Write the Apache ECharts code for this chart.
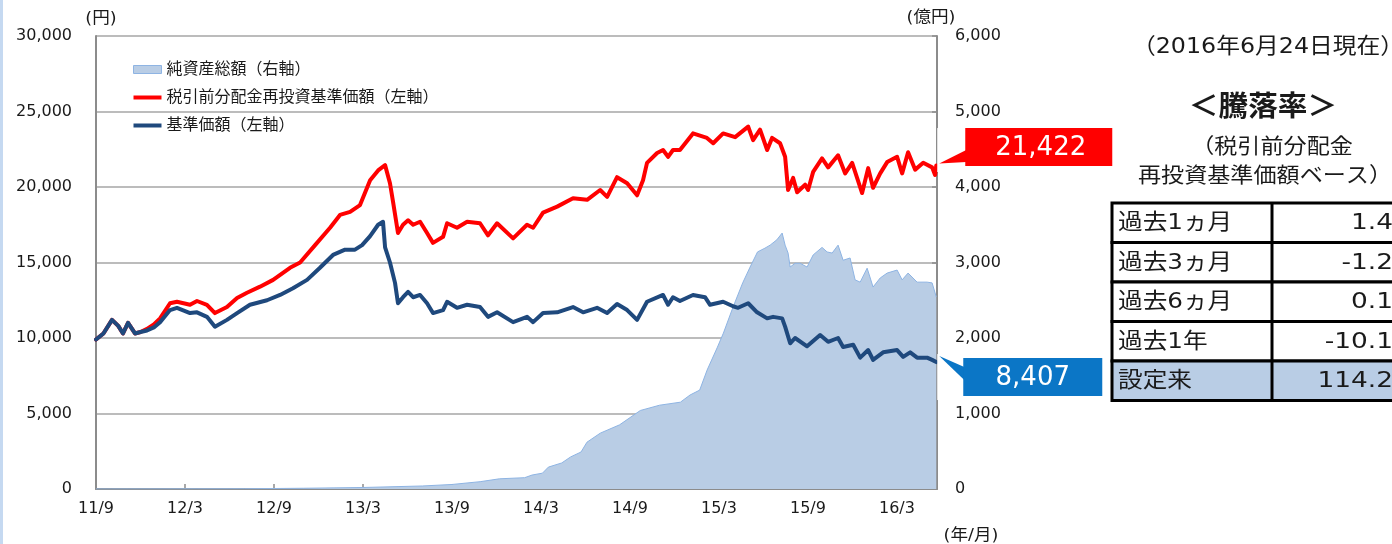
<!DOCTYPE html>
<html>
<head>
<meta charset="utf-8">
<script src="https://cdn.jsdelivr.net/npm/echarts@6/dist/echarts.min.js"></script>
<style>
  html, body { margin: 0; padding: 0; background: #fff; }
  #chart { width: 1392px; height: 544px; }
</style>
</head>
<body>
<div id="chart"></div>
<script>
// x values are months elapsed since 2011/9 (fund inception)
// 純資産総額 (億円, right axis)
const netAssets = [
  [0,0],[10,3],[14,10],[18,20],[22,40],[24,60],[25.9,97],[27.2,135],[28.9,150],[29.4,185],
  [30.1,210],[30.5,290],[31.4,345],[32.0,425],[32.7,490],[33.1,620],[34.0,740],[35.3,850],
  [36.7,1040],[38.0,1110],[39.4,1150],[40.05,1245],[40.7,1310],[41.2,1575],[41.9,1880],
  [42.3,2065],[42.95,2410],[43.6,2730],[44.1,2940],[44.6,3140],[45.1,3190],[45.45,3230],
  [45.9,3300],[46.26,3390],[46.46,3230],[46.66,3125],[46.8,2940],[47.13,2990],[47.47,2990],
  [47.94,2940],[48.35,3100],[48.95,3200],[49.29,3140],[49.63,3125],[50.03,3230],[50.37,3030],
  [50.84,3060],[51.18,2770],[51.52,2740],[51.99,2925],[52.39,2675],[52.87,2795],[53.34,2860],
  [54.01,2900],[54.35,2770],[54.75,2860],[55.36,2740],[56.03,2740],[56.37,2730],[56.65,2545]
];

// 税引前分配金再投資基準価額 (円, left axis)
const reinvestedNav = [
  [0,9900],[0.5,10300],[1.08,11200],[1.5,10800],[1.82,10300],[2.16,11000],[2.63,10300],[3.0,10400],
  [3.44,10600],[3.9,10900],[4.32,11300],[4.99,12300],[5.46,12400],[6.34,12200],[6.81,12450],
  [7.48,12200],[8.02,11650],[8.83,12050],[9.51,12650],[10.18,13000],[11.06,13400],[11.94,13850],
  [13.08,14650],[13.76,15000],[14.77,16150],[15.78,17300],[16.45,18150],[17.13,18350],[17.8,18800],
  [18.48,20450],[19.02,21100],[19.49,21450],[19.82,20250],[20.03,19000],[20.36,16950],[20.7,17500],
  [21.04,17800],[21.38,17500],[21.85,17700],[22.32,16950],[22.72,16300],[23.4,16700],[23.67,17600],
  [24.34,17300],[25.02,17700],[25.89,17600],[26.43,16800],[27.04,17600],[28.12,16600],[29.06,17500],
  [29.47,17300],[30.14,18300],[31.09,18700],[32.16,19250],[33.11,19150],[33.99,19800],[34.46,19350],
  [35.13,20650],[35.81,20250],[36.48,19450],[36.88,20450],[37.15,21600],[37.83,22250],[38.23,22450],
  [38.57,22000],[38.9,22450],[39.37,22450],[40.25,23550],[41.19,23250],[41.61,22900],[42.28,23550],
  [43.09,23300],[43.97,24000],[44.3,23100],[44.77,23800],[45.25,22450],[45.58,23250],[46.12,22900],
  [46.46,22000],[46.66,19800],[47.0,20600],[47.27,19650],[47.81,20150],[48.01,19800],[48.35,21000],
  [48.95,21900],[49.36,21300],[50.03,22100],[50.51,20900],[50.98,21600],[51.65,19600],[52.06,21250],
  [52.39,19950],[52.87,20900],[53.34,21650],[54.01,22000],[54.35,20900],[54.75,22300],[55.23,21150],
  [55.77,21600],[56.37,21300],[56.57,20800],[56.65,21422]
];

// 基準価額 (円, left axis)
const baseNav = [
  [0,9900],[0.5,10300],[1.08,11200],[1.5,10800],[1.82,10300],[2.16,11000],[2.63,10300],[3.0,10400],
  [3.44,10500],[3.9,10700],[4.32,11050],[4.99,11850],[5.46,12000],[6.34,11650],[6.81,11700],
  [7.48,11400],[8.02,10750],[8.83,11200],[9.51,11650],[10.38,12200],[11.53,12500],[12.41,12850],
  [13.28,13300],[14.23,13850],[15.1,14650],[15.98,15500],[16.79,15850],[17.46,15850],[17.94,16150],
  [18.48,16750],[19.02,17500],[19.35,17700],[19.49,16000],[19.82,15000],[20.16,13650],[20.36,12300],
  [20.7,12700],[21.04,13050],[21.38,12700],[21.85,12850],[22.32,12300],[22.72,11650],[23.4,11850],
  [23.67,12400],[24.34,12000],[25.02,12200],[25.89,12050],[26.43,11400],[27.04,11700],[28.12,11050],
  [29.06,11400],[29.47,11050],[30.14,11650],[31.09,11700],[32.16,12050],[32.84,11700],[33.78,12000],
  [34.46,11650],[35.13,12250],[35.81,11850],[36.48,11200],[37.15,12400],[38.23,12850],[38.57,12200],
  [38.9,12700],[39.37,12450],[40.25,12850],[41.06,12700],[41.4,12200],[42.28,12400],[42.95,12100],
  [43.29,12000],[43.97,12300],[44.57,11700],[45.25,11300],[45.65,11400],[46.26,11300],[46.46,10750],
  [46.8,9650],[47.13,10000],[47.94,9450],[48.82,10200],[49.36,9750],[50.03,10000],[50.37,9400],
  [51.05,9550],[51.52,8700],[52.06,9200],[52.39,8550],[53.07,9050],[54.01,9200],[54.42,8750],
  [54.89,9050],[55.36,8700],[56.03,8700],[56.37,8550],[56.65,8407]
];

// 騰落率 table (税引前分配金再投資基準価額ベース)
const periods = ['過去1ヵ月', '過去3ヵ月', '過去6ヵ月', '過去1年', '設定来'];
const returns = [1.4, -1.2, 0.1, -10.1, 114.2];

const asOfText = '（2016年6月24日現在）';
const seriesNames = ['純資産総額（右軸）', '税引前分配金再投資基準価額（左軸）', '基準価額（左軸）'];

const FONT = '"DejaVu Sans", "Noto Sans CJK JP", sans-serif';
const TEXT = '#1a1a1a';
const AXIS_GRAY = '#8c8c8c';
// 28x8 legend glyph holding a 4px-thick bar in the middle
const LINE_ICON = 'path://M0,0 M0,2 L28,2 L28,6 L0,6 Z M28,8';

function monthLabel(m) {
  const t = 8 + Math.round(m);          // Jan 2011 = 0
  return (11 + Math.floor(t / 12)) + '/' + (t % 12 + 1);
}
const fmt = v => v.toLocaleString('en-US');

const chart = echarts.init(document.getElementById('chart'), null, { renderer: 'canvas' });

chart.setOption({
  animation: false,
  textStyle: { fontFamily: FONT },
  grid: { left: 96, right: 455, top: 36, bottom: 55, containLabel: false },
  legend: {
    orient: 'vertical', left: 128, top: 56,
    itemWidth: 28, itemHeight: 8, itemGap: 11,
    textStyle: { fontFamily: FONT, fontSize: 16, color: TEXT, lineHeight: 17 },
    data: [
      { name: seriesNames[0], icon: 'rect',
        itemStyle: { color: '#b9cde5', borderColor: '#8eb4e3', borderWidth: 1 } },
      { name: seriesNames[1], icon: LINE_ICON, itemStyle: { color: '#ff0000' } },
      { name: seriesNames[2], icon: LINE_ICON, itemStyle: { color: '#1f497d' } }
    ]
  },
  xAxis: {
    type: 'value', min: 0, max: 56.7, interval: 6,
    axisLine: { lineStyle: { color: AXIS_GRAY, width: 2 } },
    axisTick: { inside: true, length: 5, lineStyle: { color: AXIS_GRAY, width: 1.5 } },
    axisLabel: { formatter: monthLabel, color: TEXT, fontSize: 16, fontFamily: FONT, margin: 12,
                 showMaxLabel: false },
    splitLine: { show: false }
  },
  yAxis: [
    {
      type: 'value', min: 0, max: 30000, interval: 5000, position: 'left',
      axisLine: { show: true, lineStyle: { color: AXIS_GRAY, width: 2 } },
      axisTick: { show: false },
      axisLabel: { formatter: fmt, color: TEXT, fontSize: 16, fontFamily: FONT, margin: 24 },
      splitLine: { lineStyle: { color: '#a6a6a6', width: 1.5 } }
    },
    {
      type: 'value', min: 0, max: 6000, interval: 1000, position: 'right',
      axisLine: { show: true, lineStyle: { color: AXIS_GRAY, width: 2 } },
      axisTick: { show: true, inside: true, length: 5, lineStyle: { color: AXIS_GRAY, width: 1.5 } },
      axisLabel: { formatter: fmt, color: TEXT, fontSize: 16, fontFamily: FONT, margin: 18 },
      splitLine: { show: false }
    }
  ],
  series: [
    {
      name: seriesNames[0], type: 'line', yAxisIndex: 1, data: netAssets,
      symbol: 'none', lineStyle: { color: '#8eb4e3', width: 1 },
      itemStyle: { color: '#b9cde5' },
      areaStyle: { color: '#b9cde5', opacity: 1 }, z: 1
    },
    {
      name: seriesNames[1], type: 'line', yAxisIndex: 0, data: reinvestedNav,
      symbol: 'none', itemStyle: { color: '#ff0000' },
      lineStyle: { color: '#ff0000', width: 4, cap: 'round', join: 'round' }, z: 3
    },
    {
      name: seriesNames[2], type: 'line', yAxisIndex: 0, data: baseNav,
      symbol: 'none', itemStyle: { color: '#1f497d' },
      lineStyle: { color: '#1f497d', width: 4, cap: 'round', join: 'round' }, z: 4
    }
  ]
});

// text whose glyphs are widened a little, anchored at (x, y)
function wideText(text, x, y, size, align, scaleX, extra) {
  return Object.assign({
    type: 'text', x: x, y: y, scaleX: scaleX, z: 102,
    style: { text: text, x: 0, y: 0, fill: TEXT, font: size + 'px ' + FONT,
             textAlign: align, textVerticalAlign: 'middle' }
  }, extra || {});
}

// callouts at the latest values, plus axis units and the return table
function buildGraphics() {
  const els = [];
  // thin accent strip along the left edge
  els.push({ type: 'rect', shape: { x: 0, y: 0, width: 3, height: 544 }, style: { fill: '#c5d9f1' }, z: 100 });

  // axis unit captions
  els.push(wideText('(円)', 101, 19, 16, 'center', 1.1));
  els.push(wideText('(億円)', 931, 18, 16, 'center', 1.1));
  els.push(wideText('(年/月)', 971, 536, 16, 'center', 1.1));

  // value callouts
  const lastRed = reinvestedNav[reinvestedNav.length - 1];
  const lastBlue = baseNav[baseNav.length - 1];
  const pr = chart.convertToPixel({ seriesIndex: 1 }, lastRed);
  const pb = chart.convertToPixel({ seriesIndex: 2 }, lastBlue);

  const redBox = { x: pr[0] + 29, y: pr[1] - 37.5, w: 147, h: 38 };
  els.push({ type: 'rect', shape: { x: pr[0] + 1, y: redBox.y, width: 4, height: 44 }, style: { fill: '#fff' }, z: 90 });
  els.push({ type: 'polygon', shape: { points: [[pr[0] + 3, pr[1] - 2], [redBox.x + 1, redBox.y + 22], [redBox.x + 1, redBox.y + 34]] },
             style: { fill: '#ff0000' }, z: 101 });
  els.push({ type: 'rect', shape: { x: redBox.x, y: redBox.y, width: redBox.w, height: redBox.h }, style: { fill: '#ff0000' }, z: 101 });
  els.push({ type: 'text', style: { text: fmt(lastRed[1]), x: redBox.x + redBox.w / 2 + 2, y: redBox.y + redBox.h / 2 + 1,
             fill: '#fff', font: '26px ' + FONT, textAlign: 'center', textVerticalAlign: 'middle' }, z: 102 });

  const blueBox = { x: pb[0] + 27, y: pb[1] - 4, w: 139, h: 38 };
  els.push({ type: 'rect', shape: { x: pb[0] + 1, y: pb[1] - 8, width: 4, height: 46 }, style: { fill: '#fff' }, z: 90 });
  els.push({ type: 'polygon', shape: { points: [[pb[0] + 3, pb[1] - 6], [blueBox.x + 1, blueBox.y + 9], [blueBox.x + 1, blueBox.y + 22]] },
             style: { fill: '#0b76c6' }, z: 101 });
  els.push({ type: 'rect', shape: { x: blueBox.x, y: blueBox.y, width: blueBox.w, height: blueBox.h }, style: { fill: '#0b76c6' }, z: 101 });
  els.push({ type: 'text', style: { text: fmt(lastBlue[1]), x: blueBox.x + blueBox.w / 2, y: blueBox.y + blueBox.h / 2 + 1,
             fill: '#fff', font: '26px ' + FONT, textAlign: 'center', textVerticalAlign: 'middle' }, z: 102 });

  // heading block
  els.push(wideText(asOfText, 1268, 47, 22, 'center', 1.08));
  els.push(wideText('＜騰落率＞', 1263, 109, 28, 'center', 1.06,
    { style: { text: '＜騰落率＞', x: 0, y: 0, fill: TEXT, font: 'bold 28px ' + FONT,
               textAlign: 'center', textVerticalAlign: 'middle' } }));
  els.push(wideText('（税引前分配金', 1272, 148, 21, 'center', 1.1));
  els.push(wideText('再投資基準価額ベース）', 1265, 177, 21, 'center', 1.1));

  // return table
  const tx = 1112, colX = 1272, tRight = 1402, tTop = 203, rowH = 39.5;
  periods.forEach((p, i) => {
    const y = tTop + i * rowH;
    const last = i === periods.length - 1;
    els.push({ type: 'rect', shape: { x: tx, y: y, width: tRight - tx, height: rowH },
               style: { fill: last ? '#b9cde5' : '#fff', stroke: '#000', lineWidth: 3 }, z: 100 });
    els.push({ type: 'line', shape: { x1: colX, y1: y, x2: colX, y2: y + rowH },
               style: { stroke: '#000', lineWidth: 3 }, z: 101 });
    els.push(wideText(p, tx + 6, y + rowH / 2 + 1, 22, 'left', 1.12));
    els.push(wideText(returns[i].toFixed(1), 1393, y + rowH / 2 + 1, 22, 'right', 1.2));
  });
  return els;
}

chart.setOption({ graphic: { elements: buildGraphics() } });
</script>
</body>
</html>
